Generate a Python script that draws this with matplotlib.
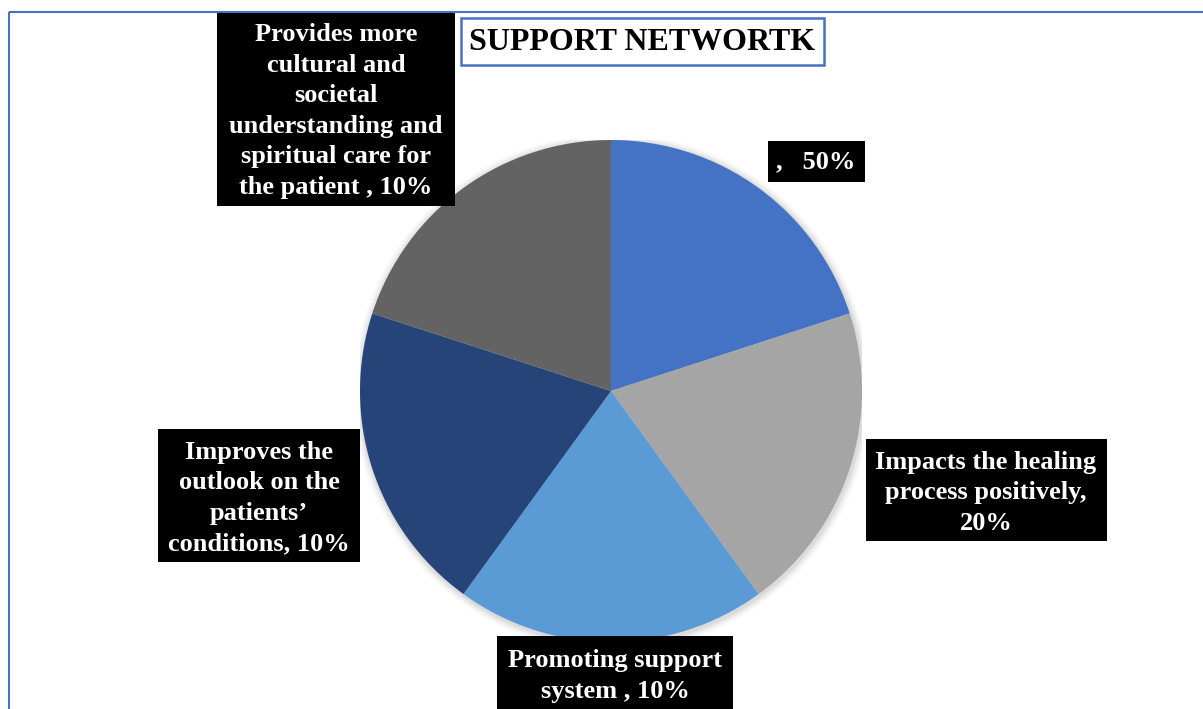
import matplotlib
matplotlib.use("Agg")
import matplotlib.pyplot as plt
from matplotlib.patches import Rectangle, Circle

# ---- data ----
categories = [
    "",
    "Impacts the healing process positively",
    "Promoting support system",
    "Improves the outlook on the patients’ conditions",
    "Provides more cultural and societal understanding and spiritual care for the patient",
]
slice_sizes = [20, 20, 20, 20, 20]          # drawn slices are equal
label_texts = [
    ",   50%",
    "Impacts the healing\nprocess positively,\n20%",
    "Promoting support\nsystem , 10%",
    "Improves the\noutlook on the\npatients’\nconditions, 10%",
    "Provides more\ncultural and\nsocietal\nunderstanding and\nspiritual care for\nthe patient , 10%",
]
slice_colors = ["#4472C4", "#A5A5A5", "#5B9BD5", "#264478", "#636363"]
title = "SUPPORT NETWORTK"

W, H = 1203, 709
fig = plt.figure(figsize=(W / 100, H / 100), dpi=100)
fig.patch.set_facecolor("white")

# pie axes
cx, cy, r = 611, 391, 251
ax = fig.add_axes([(cx - r) / W, (H - cy - r) / H, 2 * r / W, 2 * r / H])
# soft shadow
for k, a in enumerate([0.05, 0.04, 0.03, 0.02]):
    ax.add_patch(Circle((0.004, -0.006), 1.0 + 0.008 * (k + 1), color="black", alpha=a, lw=0, zorder=0))
ax.pie(slice_sizes, colors=slice_colors, startangle=90, counterclock=False,
       wedgeprops=dict(linewidth=0), radius=1.0)
ax.set_aspect("equal")
ax.axis("off")
ax.set_xlim(-1, 1)
ax.set_ylim(-1, 1)

# overlay axes in pixel coordinates
ov = fig.add_axes([0, 0, 1, 1], zorder=5)
ov.set_xlim(0, W)
ov.set_ylim(H, 0)
ov.axis("off")
ov.patch.set_alpha(0)

# outer frame (top and left visible)
ov.plot([9, W + 5], [12, 12], color="#4472C4", lw=1.5, solid_capstyle="butt")
ov.plot([9, 9], [12, H + 5], color="#4472C4", lw=1.5, solid_capstyle="butt")

font = dict(family="Liberation Serif", weight="bold", color="white")

# label boxes (x0, y0, x1, y1) in pixels and text centres
boxes = [
    (768, 141, 865, 182),
    (866, 439, 1107, 541),
    (497, 636, 733, 712),
    (158, 429, 360, 562),
    (217, 12, 455, 206),
]
centres = [(816, 162), (986, 493), (615, 676), (259, 498), (336, 111)]
for (x0, y0, x1, y1), (tx, ty), txt in zip(boxes, centres, label_texts):
    ov.add_patch(Rectangle((x0, y0), x1 - x0, y1 - y0, facecolor="black", edgecolor="none"))
    ov.text(tx, ty, txt, ha="center", va="center", fontsize=19, linespacing=1.42,
            multialignment="center", **font)

# title box
ov.add_patch(Rectangle((461, 18), 824 - 461, 65 - 18, facecolor="white", edgecolor="#4472C4", lw=1.8))
ov.text(642, 42, title, ha="center", va="center", fontsize=23,
        family="Liberation Serif", weight="bold", color="black")

fig.savefig("out.png", dpi=100)
